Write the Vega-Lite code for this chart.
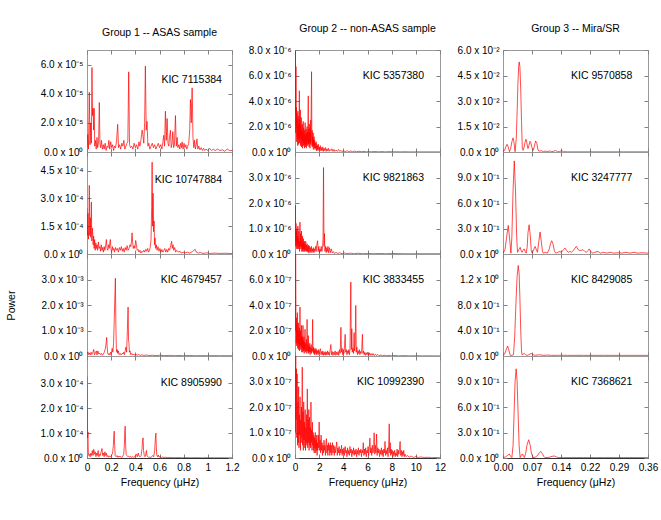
{
"$schema":"https://vega.github.io/schema/vega-lite/v6.json",
"background":"white",
"padding":{"left":5,"top":23,"right":0,"bottom":0},
"bounds":"flush",
"columns":3,
"spacing":{"row":0,"column":63},
"config":{
"font":"Liberation Sans",
"view":{"stroke":"#999999","strokeWidth":1},
"title":{"fontSize":10.5,"fontWeight":"normal","offset":11,"anchor":"middle","font":"Liberation Sans","color":"#000000"},
"axis":{"grid":false,"domain":false,"tickSize":-4,"tickColor":"#808080","tickWidth":1,"labelFontSize":10,"labelColor":"#000000","labelFont":"Liberation Sans","labelPadding":8,"labelFlush":false,"labelOverlap":false,"titleFontSize":10.5,"titleFontWeight":"normal","titleColor":"#000000","titleFont":"Liberation Sans","titlePadding":5},
"axisBottom":{"domain":true,"domainColor":"#333333","domainWidth":1},
"line":{"color":"#ff0000","strokeWidth":0.7},
"text":{"align":"right","baseline":"middle","fontSize":10.5,"color":"#000000","font":"Liberation Sans"}
},
"datasets":{
"p1":[{"f":0,"w":0.3e-5},{"f":0.006,"w":1.2e-5},{"f":0.012,"w":0.2e-5},{"f":0.019,"w":4.1e-5},{"f":0.025,"w":0.5e-5},{"f":0.031,"w":2.0e-5},{"f":0.036,"w":0.6e-5},{"f":0.041,"w":5.8e-5},{"f":0.046,"w":2.5e-5},{"f":0.05,"w":3.0e-5},{"f":0.055,"w":1.5e-5},{"f":0.059,"w":3.0e-5},{"f":0.064,"w":0.4e-5},{"f":0.07,"w":0.8e-5},{"f":0.076,"w":0.2e-5},{"f":0.083,"w":1.0e-5},{"f":0.088,"w":0.3e-5},{"f":0.096,"w":0.7e-5},{"f":0.102,"w":3.4e-5},{"f":0.107,"w":0.6e-5},{"f":0.113,"w":0.3e-5},{"f":0.12,"w":0.8e-5},{"f":0.127,"w":0.2e-5},{"f":0.135,"w":0.5e-5},{"f":0.142,"w":0.2e-5},{"f":0.15,"w":0.6e-5},{"f":0.158,"w":0.1e-5},{"f":0.166,"w":0.4e-5},{"f":0.174,"w":0.3e-5},{"f":0.181,"w":0.8e-5},{"f":0.188,"w":0.2e-5},{"f":0.196,"w":0.7e-5},{"f":0.204,"w":0.3e-5},{"f":0.212,"w":0.5e-5},{"f":0.22,"w":0.1e-5},{"f":0.228,"w":0.4e-5},{"f":0.236,"w":0.3e-5},{"f":0.244,"w":0.7e-5},{"f":0.254,"w":1.9e-5},{"f":0.261,"w":0.3e-5},{"f":0.27,"w":0.5e-5},{"f":0.278,"w":0.2e-5},{"f":0.288,"w":0.6e-5},{"f":0.297,"w":0.4e-5},{"f":0.305,"w":0.8e-5},{"f":0.313,"w":0.2e-5},{"f":0.322,"w":0.4e-5},{"f":0.33,"w":0.6e-5},{"f":0.338,"w":0.7e-5},{"f":0.345,"w":5.5e-5},{"f":0.352,"w":0.5e-5},{"f":0.36,"w":0.3e-5},{"f":0.37,"w":0.4e-5},{"f":0.38,"w":0.2e-5},{"f":0.39,"w":0.6e-5},{"f":0.4,"w":0.3e-5},{"f":0.41,"w":0.5e-5},{"f":0.42,"w":0.2e-5},{"f":0.43,"w":0.7e-5},{"f":0.438,"w":0.4e-5},{"f":0.446,"w":0.8e-5},{"f":0.456,"w":1.5e-5},{"f":0.462,"w":1.2e-5},{"f":0.47,"w":0.6e-5},{"f":0.477,"w":2.0e-5},{"f":0.483,"w":5.9e-5},{"f":0.49,"w":1.5e-5},{"f":0.497,"w":2.1e-5},{"f":0.504,"w":0.4e-5},{"f":0.512,"w":0.6e-5},{"f":0.52,"w":0.2e-5},{"f":0.53,"w":0.4e-5},{"f":0.54,"w":0.6e-5},{"f":0.55,"w":0.3e-5},{"f":0.56,"w":0.5e-5},{"f":0.57,"w":0.2e-5},{"f":0.58,"w":0.4e-5},{"f":0.59,"w":0.6e-5},{"f":0.6,"w":0.3e-5},{"f":0.61,"w":0.5e-5},{"f":0.62,"w":0.2e-5},{"f":0.628,"w":0.7e-5},{"f":0.635,"w":1.15e-5},{"f":0.642,"w":0.4e-5},{"f":0.649,"w":2.8e-5},{"f":0.656,"w":0.8e-5},{"f":0.663,"w":2.3e-5},{"f":0.67,"w":0.6e-5},{"f":0.677,"w":0.4e-5},{"f":0.683,"w":1.0e-5},{"f":0.69,"w":1.5e-5},{"f":0.697,"w":0.3e-5},{"f":0.704,"w":0.6e-5},{"f":0.71,"w":1.4e-5},{"f":0.717,"w":0.3e-5},{"f":0.724,"w":0.5e-5},{"f":0.732,"w":2.5e-5},{"f":0.739,"w":0.4e-5},{"f":0.746,"w":1.0e-5},{"f":0.752,"w":0.3e-5},{"f":0.76,"w":0.5e-5},{"f":0.768,"w":0.2e-5},{"f":0.775,"w":0.6e-5},{"f":0.782,"w":0.3e-5},{"f":0.787,"w":0.7e-5},{"f":0.795,"w":0.2e-5},{"f":0.803,"w":0.6e-5},{"f":0.81,"w":0.3e-5},{"f":0.818,"w":0.5e-5},{"f":0.826,"w":0.2e-5},{"f":0.834,"w":0.4e-5},{"f":0.842,"w":0.6e-5},{"f":0.85,"w":1.5e-5},{"f":0.856,"w":3.6e-5},{"f":0.863,"w":2.0e-5},{"f":0.87,"w":4.4e-5},{"f":0.877,"w":1.0e-5},{"f":0.884,"w":0.3e-5},{"f":0.89,"w":0.8e-5},{"f":0.897,"w":0.2e-5},{"f":0.904,"w":0.5e-5},{"f":0.91,"w":0.9e-5},{"f":0.917,"w":0.2e-5},{"f":0.925,"w":0.4e-5},{"f":0.935,"w":0.15e-5},{"f":0.945,"w":0.3e-5},{"f":0.955,"w":0.1e-5},{"f":0.965,"w":0.25e-5},{"f":0.975,"w":0.1e-5},{"f":0.985,"w":0.2e-5},{"f":1.0,"w":0.1e-5},{"f":1.015,"w":0.25e-5},{"f":1.03,"w":0.1e-5},{"f":1.045,"w":0.2e-5},{"f":1.06,"w":0.1e-5},{"f":1.08,"w":0.2e-5},{"f":1.1,"w":0.1e-5},{"f":1.12,"w":0.15e-5},{"f":1.14,"w":0.05e-5},{"f":1.16,"w":0.2e-5},{"f":1.18,"w":0.1e-5},{"f":1.2,"w":0.1e-5}],
"p2":[{"f":0,"w":2.5e-4},{"f":0.004,"w":1.0e-4},{"f":0.008,"w":2.2e-4},{"f":0.012,"w":0.8e-4},{"f":0.016,"w":1.6e-4},{"f":0.019,"w":3.7e-4},{"f":0.023,"w":1.0e-4},{"f":0.027,"w":1.96e-4},{"f":0.031,"w":0.9e-4},{"f":0.036,"w":2.8e-4},{"f":0.04,"w":0.7e-4},{"f":0.044,"w":1.4e-4},{"f":0.047,"w":1.2e-4},{"f":0.051,"w":0.5e-4},{"f":0.055,"w":0.96e-4},{"f":0.059,"w":0.3e-4},{"f":0.063,"w":0.78e-4},{"f":0.068,"w":0.2e-4},{"f":0.073,"w":0.6e-4},{"f":0.078,"w":0.3e-4},{"f":0.083,"w":0.5e-4},{"f":0.088,"w":0.2e-4},{"f":0.094,"w":0.65e-4},{"f":0.1,"w":0.3e-4},{"f":0.106,"w":0.4e-4},{"f":0.112,"w":0.15e-4},{"f":0.118,"w":0.5e-4},{"f":0.124,"w":0.2e-4},{"f":0.13,"w":0.35e-4},{"f":0.136,"w":0.1e-4},{"f":0.142,"w":0.4e-4},{"f":0.148,"w":0.2e-4},{"f":0.155,"w":0.5e-4},{"f":0.16,"w":0.78e-4},{"f":0.166,"w":0.3e-4},{"f":0.172,"w":0.2e-4},{"f":0.178,"w":0.5e-4},{"f":0.184,"w":0.3e-4},{"f":0.189,"w":0.6e-4},{"f":0.193,"w":0.78e-4},{"f":0.198,"w":0.3e-4},{"f":0.204,"w":0.1e-4},{"f":0.21,"w":0.4e-4},{"f":0.216,"w":0.2e-4},{"f":0.222,"w":0.3e-4},{"f":0.228,"w":0.1e-4},{"f":0.236,"w":0.35e-4},{"f":0.244,"w":0.2e-4},{"f":0.252,"w":0.3e-4},{"f":0.26,"w":0.1e-4},{"f":0.268,"w":0.35e-4},{"f":0.276,"w":0.2e-4},{"f":0.284,"w":0.4e-4},{"f":0.292,"w":0.15e-4},{"f":0.3,"w":0.3e-4},{"f":0.308,"w":0.1e-4},{"f":0.316,"w":0.35e-4},{"f":0.324,"w":0.2e-4},{"f":0.332,"w":0.45e-4},{"f":0.34,"w":0.2e-4},{"f":0.348,"w":0.3e-4},{"f":0.356,"w":0.5e-4},{"f":0.363,"w":0.4e-4},{"f":0.368,"w":0.7e-4},{"f":0.373,"w":1.14e-4},{"f":0.378,"w":0.6e-4},{"f":0.383,"w":0.3e-4},{"f":0.39,"w":0.45e-4},{"f":0.396,"w":0.3e-4},{"f":0.403,"w":0.73e-4},{"f":0.409,"w":0.5e-4},{"f":0.415,"w":0.2e-4},{"f":0.422,"w":0.25e-4},{"f":0.43,"w":0.1e-4},{"f":0.438,"w":0.2e-4},{"f":0.446,"w":0.05e-4},{"f":0.454,"w":0.15e-4},{"f":0.462,"w":0.1e-4},{"f":0.47,"w":0.2e-4},{"f":0.478,"w":0.1e-4},{"f":0.486,"w":0.25e-4},{"f":0.494,"w":0.15e-4},{"f":0.502,"w":0.3e-4},{"f":0.51,"w":0.1e-4},{"f":0.518,"w":0.2e-4},{"f":0.524,"w":0.4e-4},{"f":0.53,"w":0.8e-4},{"f":0.535,"w":2.5e-4},{"f":0.539,"w":4.95e-4},{"f":0.543,"w":1.5e-4},{"f":0.547,"w":3.27e-4},{"f":0.551,"w":1.2e-4},{"f":0.555,"w":1.78e-4},{"f":0.559,"w":0.5e-4},{"f":0.563,"w":0.87e-4},{"f":0.568,"w":0.3e-4},{"f":0.574,"w":0.5e-4},{"f":0.58,"w":0.2e-4},{"f":0.588,"w":0.4e-4},{"f":0.596,"w":0.15e-4},{"f":0.604,"w":0.3e-4},{"f":0.612,"w":0.1e-4},{"f":0.62,"w":0.25e-4},{"f":0.628,"w":0.1e-4},{"f":0.636,"w":0.2e-4},{"f":0.644,"w":0.3e-4},{"f":0.652,"w":0.1e-4},{"f":0.66,"w":0.25e-4},{"f":0.668,"w":0.1e-4},{"f":0.676,"w":0.3e-4},{"f":0.684,"w":0.2e-4},{"f":0.692,"w":0.45e-4},{"f":0.7,"w":0.69e-4},{"f":0.706,"w":0.3e-4},{"f":0.712,"w":0.5e-4},{"f":0.718,"w":0.2e-4},{"f":0.726,"w":0.35e-4},{"f":0.734,"w":0.1e-4},{"f":0.742,"w":0.2e-4},{"f":0.75,"w":0.15e-4},{"f":0.76,"w":0.1e-4},{"f":0.77,"w":0.15e-4},{"f":0.78,"w":0.05e-4},{"f":0.795,"w":0.1e-4},{"f":0.81,"w":0.05e-4},{"f":0.83,"w":0.1e-4},{"f":0.85,"w":0.05e-4},{"f":0.87,"w":0.12e-4},{"f":0.885,"w":0.2e-4},{"f":0.895,"w":0.25e-4},{"f":0.905,"w":0.1e-4},{"f":0.92,"w":0.05e-4},{"f":0.94,"w":0.08e-4},{"f":0.96,"w":0.03e-4},{"f":0.99,"w":0.06e-4},{"f":1.02,"w":0.03e-4},{"f":1.06,"w":0.05e-4},{"f":1.1,"w":0.03e-4},{"f":1.15,"w":0.04e-4},{"f":1.2,"w":0.02e-4}],
"p3":[{"f":0,"w":0.08e-3},{"f":0.008,"w":0.16e-3},{"f":0.014,"w":0.05e-3},{"f":0.02,"w":0.12e-3},{"f":0.027,"w":0.04e-3},{"f":0.034,"w":0.15e-3},{"f":0.04,"w":0.06e-3},{"f":0.047,"w":0.1e-3},{"f":0.055,"w":0.26e-3},{"f":0.062,"w":0.05e-3},{"f":0.07,"w":0.12e-3},{"f":0.077,"w":0.2e-3},{"f":0.083,"w":0.04e-3},{"f":0.09,"w":0.2e-3},{"f":0.097,"w":0.08e-3},{"f":0.104,"w":0.12e-3},{"f":0.112,"w":0.05e-3},{"f":0.12,"w":0.1e-3},{"f":0.128,"w":0.03e-3},{"f":0.136,"w":0.08e-3},{"f":0.143,"w":0.15e-3},{"f":0.15,"w":0.26e-3},{"f":0.156,"w":0.4e-3},{"f":0.16,"w":0.6e-3},{"f":0.163,"w":0.73e-3},{"f":0.167,"w":0.35e-3},{"f":0.172,"w":0.08e-3},{"f":0.178,"w":0.05e-3},{"f":0.184,"w":0.1e-3},{"f":0.19,"w":0.04e-3},{"f":0.196,"w":0.15e-3},{"f":0.202,"w":0.1e-3},{"f":0.208,"w":0.3e-3},{"f":0.214,"w":0.15e-3},{"f":0.22,"w":0.5e-3},{"f":0.226,"w":1.5e-3},{"f":0.232,"w":2.6e-3},{"f":0.235,"w":3.05e-3},{"f":0.239,"w":1.2e-3},{"f":0.243,"w":0.29e-3},{"f":0.247,"w":0.15e-3},{"f":0.25,"w":0.25e-3},{"f":0.254,"w":0.1e-3},{"f":0.26,"w":0.2e-3},{"f":0.266,"w":0.05e-3},{"f":0.274,"w":0.1e-3},{"f":0.282,"w":0.04e-3},{"f":0.29,"w":0.1e-3},{"f":0.298,"w":0.08e-3},{"f":0.304,"w":0.15e-3},{"f":0.31,"w":0.05e-3},{"f":0.316,"w":0.2e-3},{"f":0.322,"w":0.35e-3},{"f":0.328,"w":0.15e-3},{"f":0.334,"w":1.0e-3},{"f":0.34,"w":1.92e-3},{"f":0.344,"w":0.6e-3},{"f":0.347,"w":0.52e-3},{"f":0.351,"w":0.15e-3},{"f":0.356,"w":0.2e-3},{"f":0.362,"w":0.05e-3},{"f":0.37,"w":0.1e-3},{"f":0.378,"w":0.04e-3},{"f":0.386,"w":0.08e-3},{"f":0.394,"w":0.03e-3},{"f":0.405,"w":0.07e-3},{"f":0.416,"w":0.03e-3},{"f":0.428,"w":0.06e-3},{"f":0.44,"w":0.02e-3},{"f":0.455,"w":0.05e-3},{"f":0.47,"w":0.02e-3},{"f":0.49,"w":0.04e-3},{"f":0.51,"w":0.02e-3},{"f":0.54,"w":0.03e-3},{"f":0.57,"w":0.015e-3},{"f":0.6,"w":0.03e-3},{"f":0.64,"w":0.015e-3},{"f":0.68,"w":0.025e-3},{"f":0.72,"w":0.01e-3},{"f":0.76,"w":0.02e-3},{"f":0.8,"w":0.01e-3},{"f":0.85,"w":0.02e-3},{"f":0.9,"w":0.01e-3},{"f":0.95,"w":0.015e-3},{"f":1.0,"w":0.01e-3},{"f":1.05,"w":0.015e-3},{"f":1.1,"w":0.01e-3},{"f":1.15,"w":0.012e-3},{"f":1.2,"w":0.01e-3}],
"p4":[{"f":0,"w":3.27e-4},{"f":0.003,"w":2.1e-4},{"f":0.005,"w":0.8e-4},{"f":0.008,"w":1.05e-4},{"f":0.011,"w":0.2e-4},{"f":0.015,"w":0.1e-4},{"f":0.02,"w":0.15e-4},{"f":0.026,"w":0.05e-4},{"f":0.032,"w":0.2e-4},{"f":0.038,"w":0.1e-4},{"f":0.044,"w":0.3e-4},{"f":0.05,"w":0.1e-4},{"f":0.056,"w":0.35e-4},{"f":0.062,"w":0.15e-4},{"f":0.068,"w":0.25e-4},{"f":0.074,"w":0.05e-4},{"f":0.08,"w":0.2e-4},{"f":0.086,"w":0.1e-4},{"f":0.092,"w":0.3e-4},{"f":0.098,"w":0.05e-4},{"f":0.104,"w":0.15e-4},{"f":0.11,"w":0.1e-4},{"f":0.117,"w":0.25e-4},{"f":0.124,"w":0.38e-4},{"f":0.13,"w":0.1e-4},{"f":0.136,"w":0.2e-4},{"f":0.142,"w":0.05e-4},{"f":0.148,"w":0.25e-4},{"f":0.154,"w":0.1e-4},{"f":0.16,"w":0.2e-4},{"f":0.166,"w":0.05e-4},{"f":0.172,"w":0.1e-4},{"f":0.18,"w":0.03e-4},{"f":0.188,"w":0.08e-4},{"f":0.196,"w":0.05e-4},{"f":0.204,"w":0.12e-4},{"f":0.212,"w":0.2e-4},{"f":0.218,"w":0.5e-4},{"f":0.222,"w":0.9e-4},{"f":0.225,"w":1.08e-4},{"f":0.229,"w":0.5e-4},{"f":0.233,"w":0.1e-4},{"f":0.24,"w":0.05e-4},{"f":0.248,"w":0.1e-4},{"f":0.256,"w":0.03e-4},{"f":0.264,"w":0.08e-4},{"f":0.272,"w":0.04e-4},{"f":0.28,"w":0.06e-4},{"f":0.288,"w":0.02e-4},{"f":0.296,"w":0.08e-4},{"f":0.304,"w":0.15e-4},{"f":0.31,"w":0.6e-4},{"f":0.313,"w":1.1e-4},{"f":0.316,"w":1.28e-4},{"f":0.32,"w":0.5e-4},{"f":0.324,"w":0.15e-4},{"f":0.33,"w":0.1e-4},{"f":0.338,"w":0.05e-4},{"f":0.346,"w":0.08e-4},{"f":0.354,"w":0.03e-4},{"f":0.362,"w":0.06e-4},{"f":0.37,"w":0.03e-4},{"f":0.378,"w":0.06e-4},{"f":0.386,"w":0.02e-4},{"f":0.394,"w":0.05e-4},{"f":0.402,"w":0.1e-4},{"f":0.41,"w":0.15e-4},{"f":0.416,"w":0.05e-4},{"f":0.424,"w":0.2e-4},{"f":0.43,"w":0.08e-4},{"f":0.44,"w":0.05e-4},{"f":0.448,"w":0.1e-4},{"f":0.455,"w":0.35e-4},{"f":0.46,"w":0.7e-4},{"f":0.464,"w":0.81e-4},{"f":0.468,"w":0.3e-4},{"f":0.474,"w":0.1e-4},{"f":0.48,"w":0.05e-4},{"f":0.486,"w":0.15e-4},{"f":0.492,"w":0.3e-4},{"f":0.497,"w":0.08e-4},{"f":0.504,"w":0.05e-4},{"f":0.512,"w":0.02e-4},{"f":0.52,"w":0.04e-4},{"f":0.528,"w":0.02e-4},{"f":0.536,"w":0.05e-4},{"f":0.544,"w":0.1e-4},{"f":0.552,"w":0.05e-4},{"f":0.56,"w":0.3e-4},{"f":0.566,"w":0.8e-4},{"f":0.57,"w":1.0e-4},{"f":0.574,"w":0.4e-4},{"f":0.578,"w":0.1e-4},{"f":0.584,"w":0.05e-4},{"f":0.59,"w":0.12e-4},{"f":0.596,"w":0.03e-4},{"f":0.604,"w":0.06e-4},{"f":0.614,"w":0.02e-4},{"f":0.624,"w":0.04e-4},{"f":0.636,"w":0.02e-4},{"f":0.65,"w":0.03e-4},{"f":0.67,"w":0.015e-4},{"f":0.69,"w":0.025e-4},{"f":0.72,"w":0.01e-4},{"f":0.75,"w":0.02e-4},{"f":0.78,"w":0.01e-4},{"f":0.82,"w":0.015e-4},{"f":0.86,"w":0.01e-4},{"f":0.9,"w":0.015e-4},{"f":0.95,"w":0.008e-4},{"f":1.0,"w":0.012e-4},{"f":1.05,"w":0.008e-4},{"f":1.1,"w":0.01e-4},{"f":1.15,"w":0.008e-4},{"f":1.2,"w":0.008e-4}],
"p5":[{"f":0,"w":8.0e-6},{"f":0.02,"w":3.0e-6},{"f":0.04,"w":7.9e-6},{"f":0.06,"w":1.5e-6},{"f":0.08,"w":6.7e-6},{"f":0.1,"w":2.0e-6},{"f":0.12,"w":3.5e-6},{"f":0.14,"w":0.8e-6},{"f":0.16,"w":3.0e-6},{"f":0.18,"w":1.2e-6},{"f":0.2,"w":2.6e-6},{"f":0.22,"w":0.5e-6},{"f":0.24,"w":3.2e-6},{"f":0.26,"w":1.0e-6},{"f":0.28,"w":2.2e-6},{"f":0.3,"w":0.6e-6},{"f":0.32,"w":2.8e-6},{"f":0.34,"w":1.0e-6},{"f":0.36,"w":4.8e-6},{"f":0.38,"w":0.7e-6},{"f":0.4,"w":2.5e-6},{"f":0.42,"w":1.2e-6},{"f":0.44,"w":3.3e-6},{"f":0.46,"w":0.5e-6},{"f":0.48,"w":2.0e-6},{"f":0.5,"w":1.0e-6},{"f":0.52,"w":2.7e-6},{"f":0.54,"w":0.4e-6},{"f":0.56,"w":1.8e-6},{"f":0.58,"w":0.8e-6},{"f":0.6,"w":2.2e-6},{"f":0.62,"w":0.3e-6},{"f":0.64,"w":1.6e-6},{"f":0.66,"w":0.9e-6},{"f":0.68,"w":2.4e-6},{"f":0.7,"w":0.5e-6},{"f":0.72,"w":1.9e-6},{"f":0.74,"w":0.7e-6},{"f":0.76,"w":1.4e-6},{"f":0.78,"w":0.3e-6},{"f":0.8,"w":1.7e-6},{"f":0.82,"w":0.6e-6},{"f":0.84,"w":2.3e-6},{"f":0.86,"w":0.4e-6},{"f":0.88,"w":1.3e-6},{"f":0.9,"w":0.8e-6},{"f":0.92,"w":1.8e-6},{"f":0.94,"w":0.3e-6},{"f":0.96,"w":1.5e-6},{"f":0.98,"w":0.6e-6},{"f":1.0,"w":2.0e-6},{"f":1.02,"w":0.5e-6},{"f":1.04,"w":1.6e-6},{"f":1.06,"w":0.8e-6},{"f":1.08,"w":3.0e-6},{"f":1.1,"w":4.4e-6},{"f":1.12,"w":0.6e-6},{"f":1.14,"w":1.8e-6},{"f":1.16,"w":0.4e-6},{"f":1.18,"w":2.2e-6},{"f":1.2,"w":0.7e-6},{"f":1.22,"w":1.5e-6},{"f":1.24,"w":0.3e-6},{"f":1.26,"w":1.9e-6},{"f":1.28,"w":0.6e-6},{"f":1.3,"w":2.5e-6},{"f":1.32,"w":0.8e-6},{"f":1.34,"w":3.5e-6},{"f":1.37,"w":6.3e-6},{"f":1.4,"w":0.5e-6},{"f":1.42,"w":1.7e-6},{"f":1.44,"w":0.4e-6},{"f":1.46,"w":1.2e-6},{"f":1.48,"w":0.6e-6},{"f":1.5,"w":1.5e-6},{"f":1.52,"w":0.2e-6},{"f":1.54,"w":1.0e-6},{"f":1.56,"w":0.5e-6},{"f":1.58,"w":1.2e-6},{"f":1.6,"w":0.3e-6},{"f":1.63,"w":0.9e-6},{"f":1.66,"w":0.2e-6},{"f":1.69,"w":0.7e-6},{"f":1.72,"w":0.3e-6},{"f":1.75,"w":0.8e-6},{"f":1.78,"w":0.1e-6},{"f":1.81,"w":0.6e-6},{"f":1.84,"w":0.2e-6},{"f":1.87,"w":0.5e-6},{"f":1.9,"w":0.1e-6},{"f":1.94,"w":0.6e-6},{"f":1.98,"w":0.2e-6},{"f":2.02,"w":0.4e-6},{"f":2.06,"w":0.1e-6},{"f":2.1,"w":0.5e-6},{"f":2.15,"w":0.1e-6},{"f":2.2,"w":0.35e-6},{"f":2.25,"w":0.1e-6},{"f":2.3,"w":0.4e-6},{"f":2.35,"w":0.05e-6},{"f":2.4,"w":0.3e-6},{"f":2.46,"w":0.1e-6},{"f":2.52,"w":0.35e-6},{"f":2.58,"w":0.05e-6},{"f":2.64,"w":0.25e-6},{"f":2.7,"w":0.1e-6},{"f":2.76,"w":0.3e-6},{"f":2.82,"w":0.05e-6},{"f":2.9,"w":0.2e-6},{"f":2.98,"w":0.1e-6},{"f":3.06,"w":0.25e-6},{"f":3.14,"w":0.05e-6},{"f":3.22,"w":0.2e-6},{"f":3.3,"w":0.05e-6},{"f":3.4,"w":0.15e-6},{"f":3.5,"w":0.05e-6},{"f":3.6,"w":0.2e-6},{"f":3.7,"w":0.05e-6},{"f":3.8,"w":0.12e-6},{"f":3.9,"w":0.03e-6},{"f":4.0,"w":0.1e-6},{"f":4.15,"w":0.03e-6},{"f":4.3,"w":0.1e-6},{"f":4.45,"w":0.02e-6},{"f":4.6,"w":0.08e-6},{"f":4.75,"w":0.02e-6},{"f":4.9,"w":0.07e-6},{"f":5.1,"w":0.02e-6},{"f":5.3,"w":0.06e-6},{"f":5.5,"w":0.02e-6},{"f":5.7,"w":0.05e-6},{"f":5.9,"w":0.01e-6},{"f":6.1,"w":0.04e-6},{"f":6.3,"w":0.01e-6},{"f":6.6,"w":0.04e-6},{"f":6.9,"w":0.01e-6},{"f":7.2,"w":0.03e-6},{"f":7.5,"w":0.01e-6},{"f":7.8,"w":0.03e-6},{"f":8.1,"w":0.01e-6},{"f":8.4,"w":0.02e-6},{"f":8.7,"w":0.01e-6},{"f":9.0,"w":0.02e-6},{"f":9.5,"w":0.01e-6},{"f":10.0,"w":0.01e-6},{"f":10.5,"w":0.01e-6},{"f":11.0,"w":0.01e-6},{"f":12.0,"w":0.01e-6}],
"p6":[{"f":0,"w":1.9e-6},{"f":0.02,"w":0.5e-6},{"f":0.04,"w":1.9e-6},{"f":0.06,"w":0.3e-6},{"f":0.08,"w":1.2e-6},{"f":0.1,"w":0.4e-6},{"f":0.12,"w":0.9e-6},{"f":0.14,"w":0.2e-6},{"f":0.16,"w":1.0e-6},{"f":0.18,"w":0.3e-6},{"f":0.2,"w":0.7e-6},{"f":0.22,"w":0.2e-6},{"f":0.24,"w":1.1e-6},{"f":0.26,"w":0.4e-6},{"f":0.28,"w":0.6e-6},{"f":0.3,"w":0.2e-6},{"f":0.32,"w":0.9e-6},{"f":0.34,"w":0.3e-6},{"f":0.36,"w":0.5e-6},{"f":0.38,"w":0.1e-6},{"f":0.41,"w":1.25e-6},{"f":0.44,"w":0.3e-6},{"f":0.46,"w":0.8e-6},{"f":0.48,"w":0.2e-6},{"f":0.5,"w":0.6e-6},{"f":0.52,"w":0.3e-6},{"f":0.54,"w":0.9e-6},{"f":0.56,"w":0.1e-6},{"f":0.58,"w":0.5e-6},{"f":0.6,"w":0.2e-6},{"f":0.62,"w":0.7e-6},{"f":0.64,"w":0.1e-6},{"f":0.66,"w":0.4e-6},{"f":0.68,"w":0.2e-6},{"f":0.7,"w":0.6e-6},{"f":0.72,"w":0.1e-6},{"f":0.74,"w":0.45e-6},{"f":0.76,"w":0.2e-6},{"f":0.78,"w":0.5e-6},{"f":0.8,"w":0.1e-6},{"f":0.83,"w":0.4e-6},{"f":0.86,"w":0.15e-6},{"f":0.89,"w":0.5e-6},{"f":0.92,"w":0.1e-6},{"f":0.95,"w":0.35e-6},{"f":0.98,"w":0.1e-6},{"f":1.01,"w":0.4e-6},{"f":1.04,"w":0.1e-6},{"f":1.07,"w":0.3e-6},{"f":1.1,"w":0.05e-6},{"f":1.13,"w":0.35e-6},{"f":1.16,"w":0.1e-6},{"f":1.2,"w":0.3e-6},{"f":1.24,"w":0.05e-6},{"f":1.28,"w":0.25e-6},{"f":1.32,"w":0.1e-6},{"f":1.36,"w":0.3e-6},{"f":1.4,"w":0.05e-6},{"f":1.44,"w":0.2e-6},{"f":1.48,"w":0.1e-6},{"f":1.52,"w":0.25e-6},{"f":1.56,"w":0.05e-6},{"f":1.6,"w":0.2e-6},{"f":1.65,"w":0.1e-6},{"f":1.7,"w":0.3e-6},{"f":1.75,"w":0.1e-6},{"f":1.8,"w":0.35e-6},{"f":1.87,"w":0.52e-6},{"f":1.92,"w":0.1e-6},{"f":1.97,"w":0.3e-6},{"f":2.02,"w":0.05e-6},{"f":2.07,"w":0.2e-6},{"f":2.12,"w":0.1e-6},{"f":2.17,"w":0.3e-6},{"f":2.22,"w":0.1e-6},{"f":2.27,"w":0.2e-6},{"f":2.32,"w":0.6e-6},{"f":2.36,"w":3.39e-6},{"f":2.4,"w":0.3e-6},{"f":2.44,"w":0.8e-6},{"f":2.48,"w":0.1e-6},{"f":2.53,"w":0.3e-6},{"f":2.58,"w":0.05e-6},{"f":2.63,"w":0.25e-6},{"f":2.68,"w":0.1e-6},{"f":2.73,"w":0.3e-6},{"f":2.78,"w":0.05e-6},{"f":2.85,"w":0.25e-6},{"f":2.92,"w":0.05e-6},{"f":3.0,"w":0.2e-6},{"f":3.08,"w":0.05e-6},{"f":3.16,"w":0.1e-6},{"f":3.25,"w":0.02e-6},{"f":3.4,"w":0.06e-6},{"f":3.55,"w":0.02e-6},{"f":3.7,"w":0.05e-6},{"f":3.9,"w":0.01e-6},{"f":4.1,"w":0.04e-6},{"f":4.3,"w":0.01e-6},{"f":4.6,"w":0.03e-6},{"f":4.9,"w":0.01e-6},{"f":5.2,"w":0.03e-6},{"f":5.6,"w":0.01e-6},{"f":6.0,"w":0.02e-6},{"f":6.5,"w":0.01e-6},{"f":7.0,"w":0.02e-6},{"f":7.5,"w":0.01e-6},{"f":8.0,"w":0.02e-6},{"f":9.0,"w":0.01e-6},{"f":10.0,"w":0.01e-6},{"f":11.0,"w":0.01e-6},{"f":12.0,"w":0.01e-6}],
"p7":[{"f":0,"w":8.5e-7},{"f":0.03,"w":2.0e-7},{"f":0.05,"w":9.0e-7},{"f":0.08,"w":3.5e-7},{"f":0.1,"w":1.0e-7},{"f":0.12,"w":3.0e-7},{"f":0.14,"w":0.8e-7},{"f":0.16,"w":2.5e-7},{"f":0.18,"w":1.2e-7},{"f":0.2,"w":3.4e-7},{"f":0.22,"w":0.6e-7},{"f":0.24,"w":2.0e-7},{"f":0.26,"w":1.0e-7},{"f":0.28,"w":2.6e-7},{"f":0.3,"w":0.5e-7},{"f":0.32,"w":1.8e-7},{"f":0.34,"w":0.9e-7},{"f":0.36,"w":2.2e-7},{"f":0.38,"w":0.4e-7},{"f":0.41,"w":3.84e-7},{"f":0.44,"w":0.8e-7},{"f":0.46,"w":2.0e-7},{"f":0.48,"w":0.5e-7},{"f":0.5,"w":1.5e-7},{"f":0.52,"w":0.7e-7},{"f":0.54,"w":2.4e-7},{"f":0.56,"w":0.3e-7},{"f":0.58,"w":1.6e-7},{"f":0.6,"w":0.6e-7},{"f":0.62,"w":1.4e-7},{"f":0.64,"w":0.3e-7},{"f":0.66,"w":2.4e-7},{"f":0.68,"w":0.5e-7},{"f":0.7,"w":1.2e-7},{"f":0.72,"w":0.4e-7},{"f":0.74,"w":1.5e-7},{"f":0.76,"w":0.2e-7},{"f":0.78,"w":1.1e-7},{"f":0.8,"w":0.5e-7},{"f":0.83,"w":2.1e-7},{"f":0.86,"w":0.3e-7},{"f":0.89,"w":1.0e-7},{"f":0.92,"w":0.4e-7},{"f":0.95,"w":1.3e-7},{"f":0.98,"w":0.2e-7},{"f":1.0,"w":2.87e-7},{"f":1.03,"w":0.4e-7},{"f":1.06,"w":0.9e-7},{"f":1.09,"w":0.3e-7},{"f":1.1,"w":1.6e-7},{"f":1.13,"w":0.2e-7},{"f":1.16,"w":0.8e-7},{"f":1.19,"w":0.3e-7},{"f":1.22,"w":1.0e-7},{"f":1.25,"w":0.1e-7},{"f":1.28,"w":0.7e-7},{"f":1.31,"w":0.3e-7},{"f":1.34,"w":0.9e-7},{"f":1.37,"w":0.2e-7},{"f":1.4,"w":0.6e-7},{"f":1.43,"w":0.4e-7},{"f":1.46,"w":2.87e-7},{"f":1.49,"w":0.3e-7},{"f":1.52,"w":0.7e-7},{"f":1.55,"w":0.2e-7},{"f":1.58,"w":0.6e-7},{"f":1.61,"w":0.1e-7},{"f":1.64,"w":0.5e-7},{"f":1.68,"w":0.2e-7},{"f":1.72,"w":0.6e-7},{"f":1.76,"w":0.1e-7},{"f":1.8,"w":0.5e-7},{"f":1.84,"w":0.2e-7},{"f":1.88,"w":0.4e-7},{"f":1.92,"w":0.1e-7},{"f":1.96,"w":0.5e-7},{"f":2.0,"w":0.2e-7},{"f":2.05,"w":0.4e-7},{"f":2.1,"w":0.57e-7},{"f":2.15,"w":0.1e-7},{"f":2.2,"w":0.35e-7},{"f":2.25,"w":0.1e-7},{"f":2.3,"w":0.4e-7},{"f":2.35,"w":0.05e-7},{"f":2.4,"w":0.3e-7},{"f":2.45,"w":0.1e-7},{"f":2.5,"w":0.35e-7},{"f":2.55,"w":0.05e-7},{"f":2.6,"w":0.3e-7},{"f":2.65,"w":0.1e-7},{"f":2.7,"w":0.4e-7},{"f":2.75,"w":0.1e-7},{"f":2.8,"w":0.3e-7},{"f":2.85,"w":0.05e-7},{"f":2.9,"w":0.4e-7},{"f":2.97,"w":0.9e-7},{"f":3.02,"w":0.1e-7},{"f":3.08,"w":0.35e-7},{"f":3.14,"w":0.05e-7},{"f":3.2,"w":0.3e-7},{"f":3.26,"w":0.1e-7},{"f":3.32,"w":0.4e-7},{"f":3.38,"w":0.05e-7},{"f":3.44,"w":0.3e-7},{"f":3.5,"w":0.1e-7},{"f":3.56,"w":0.35e-7},{"f":3.62,"w":0.05e-7},{"f":3.68,"w":0.5e-7},{"f":3.74,"w":0.2e-7},{"f":3.8,"w":2.25e-7},{"f":3.85,"w":0.3e-7},{"f":3.9,"w":0.6e-7},{"f":3.95,"w":0.1e-7},{"f":4.0,"w":0.5e-7},{"f":4.05,"w":0.2e-7},{"f":4.1,"w":0.8e-7},{"f":4.15,"w":1.7e-7},{"f":4.2,"w":0.3e-7},{"f":4.25,"w":0.5e-7},{"f":4.3,"w":0.1e-7},{"f":4.35,"w":0.4e-7},{"f":4.4,"w":0.2e-7},{"f":4.45,"w":0.5e-7},{"f":4.5,"w":0.1e-7},{"f":4.55,"w":0.6e-7},{"f":4.62,"w":5.8e-7},{"f":4.66,"w":0.5e-7},{"f":4.7,"w":2.14e-7},{"f":4.74,"w":0.3e-7},{"f":4.79,"w":0.6e-7},{"f":4.84,"w":0.2e-7},{"f":4.89,"w":1.83e-7},{"f":4.93,"w":0.4e-7},{"f":4.98,"w":0.8e-7},{"f":5.03,"w":3.97e-7},{"f":5.07,"w":0.3e-7},{"f":5.12,"w":0.7e-7},{"f":5.17,"w":0.1e-7},{"f":5.22,"w":0.4e-7},{"f":5.27,"w":0.2e-7},{"f":5.32,"w":0.5e-7},{"f":5.37,"w":0.1e-7},{"f":5.42,"w":0.35e-7},{"f":5.47,"w":0.2e-7},{"f":5.52,"w":0.5e-7},{"f":5.58,"w":1.7e-7},{"f":5.62,"w":0.2e-7},{"f":5.67,"w":0.4e-7},{"f":5.72,"w":0.1e-7},{"f":5.78,"w":0.3e-7},{"f":5.84,"w":0.05e-7},{"f":5.9,"w":0.25e-7},{"f":5.96,"w":0.1e-7},{"f":6.02,"w":0.3e-7},{"f":6.08,"w":0.05e-7},{"f":6.15,"w":0.25e-7},{"f":6.22,"w":0.05e-7},{"f":6.3,"w":0.2e-7},{"f":6.38,"w":0.05e-7},{"f":6.46,"w":0.2e-7},{"f":6.55,"w":0.03e-7},{"f":6.65,"w":0.15e-7},{"f":6.75,"w":0.03e-7},{"f":6.85,"w":0.12e-7},{"f":6.95,"w":0.02e-7},{"f":7.1,"w":0.08e-7},{"f":7.25,"w":0.02e-7},{"f":7.4,"w":0.06e-7},{"f":7.6,"w":0.02e-7},{"f":7.8,"w":0.05e-7},{"f":8.0,"w":0.01e-7},{"f":8.3,"w":0.04e-7},{"f":8.6,"w":0.01e-7},{"f":9.0,"w":0.03e-7},{"f":9.5,"w":0.01e-7},{"f":10.0,"w":0.02e-7},{"f":10.5,"w":0.01e-7},{"f":11.0,"w":0.015e-7},{"f":11.5,"w":0.01e-7},{"f":12.0,"w":0.01e-7}],
"p8":[{"f":0,"w":4.5e-7},{"f":0.03,"w":1.0e-7},{"f":0.06,"w":4.3e-7},{"f":0.09,"w":1.5e-7},{"f":0.12,"w":3.5e-7},{"f":0.15,"w":0.8e-7},{"f":0.18,"w":3.3e-7},{"f":0.21,"w":0.5e-7},{"f":0.24,"w":2.2e-7},{"f":0.27,"w":0.6e-7},{"f":0.3,"w":2.8e-7},{"f":0.33,"w":0.4e-7},{"f":0.36,"w":1.7e-7},{"f":0.39,"w":0.9e-7},{"f":0.42,"w":2.4e-7},{"f":0.45,"w":0.3e-7},{"f":0.48,"w":1.5e-7},{"f":0.51,"w":0.6e-7},{"f":0.54,"w":2.0e-7},{"f":0.57,"w":0.8e-7},{"f":0.6,"w":3.56e-7},{"f":0.63,"w":0.5e-7},{"f":0.66,"w":1.8e-7},{"f":0.69,"w":0.3e-7},{"f":0.72,"w":2.2e-7},{"f":0.75,"w":0.7e-7},{"f":0.78,"w":1.4e-7},{"f":0.81,"w":0.4e-7},{"f":0.84,"w":1.9e-7},{"f":0.87,"w":0.3e-7},{"f":0.9,"w":1.2e-7},{"f":0.93,"w":0.6e-7},{"f":0.96,"w":1.7e-7},{"f":0.99,"w":0.5e-7},{"f":1.02,"w":2.71e-7},{"f":1.05,"w":0.4e-7},{"f":1.08,"w":1.5e-7},{"f":1.11,"w":0.6e-7},{"f":1.14,"w":1.9e-7},{"f":1.17,"w":0.3e-7},{"f":1.2,"w":1.6e-7},{"f":1.23,"w":0.5e-7},{"f":1.26,"w":1.2e-7},{"f":1.29,"w":0.4e-7},{"f":1.32,"w":2.19e-7},{"f":1.35,"w":0.6e-7},{"f":1.38,"w":1.1e-7},{"f":1.41,"w":0.3e-7},{"f":1.44,"w":1.4e-7},{"f":1.47,"w":0.5e-7},{"f":1.5,"w":1.0e-7},{"f":1.53,"w":0.3e-7},{"f":1.56,"w":0.9e-7},{"f":1.59,"w":0.2e-7},{"f":1.62,"w":0.8e-7},{"f":1.65,"w":0.4e-7},{"f":1.68,"w":1.0e-7},{"f":1.71,"w":0.2e-7},{"f":1.74,"w":0.7e-7},{"f":1.77,"w":0.3e-7},{"f":1.8,"w":0.9e-7},{"f":1.83,"w":0.1e-7},{"f":1.86,"w":0.6e-7},{"f":1.89,"w":0.3e-7},{"f":1.92,"w":0.9e-7},{"f":1.96,"w":0.4e-7},{"f":2.0,"w":1.41e-7},{"f":2.04,"w":0.3e-7},{"f":2.08,"w":0.7e-7},{"f":2.12,"w":0.2e-7},{"f":2.16,"w":0.9e-7},{"f":2.2,"w":0.3e-7},{"f":2.24,"w":0.6e-7},{"f":2.28,"w":0.1e-7},{"f":2.32,"w":0.5e-7},{"f":2.36,"w":0.2e-7},{"f":2.4,"w":0.7e-7},{"f":2.44,"w":0.3e-7},{"f":2.48,"w":0.5e-7},{"f":2.52,"w":0.1e-7},{"f":2.56,"w":0.6e-7},{"f":2.6,"w":0.76e-7},{"f":2.64,"w":0.2e-7},{"f":2.68,"w":0.5e-7},{"f":2.72,"w":0.1e-7},{"f":2.76,"w":0.6e-7},{"f":2.8,"w":0.3e-7},{"f":2.84,"w":0.5e-7},{"f":2.88,"w":0.1e-7},{"f":2.92,"w":0.6e-7},{"f":2.96,"w":0.2e-7},{"f":3.0,"w":0.5e-7},{"f":3.05,"w":0.1e-7},{"f":3.1,"w":0.6e-7},{"f":3.15,"w":0.2e-7},{"f":3.2,"w":0.5e-7},{"f":3.25,"w":0.1e-7},{"f":3.3,"w":0.45e-7},{"f":3.35,"w":0.2e-7},{"f":3.4,"w":0.4e-7},{"f":3.45,"w":0.63e-7},{"f":3.5,"w":0.1e-7},{"f":3.55,"w":0.4e-7},{"f":3.6,"w":0.2e-7},{"f":3.65,"w":0.45e-7},{"f":3.7,"w":0.1e-7},{"f":3.75,"w":0.35e-7},{"f":3.8,"w":0.2e-7},{"f":3.85,"w":0.5e-7},{"f":3.9,"w":0.1e-7},{"f":3.95,"w":0.35e-7},{"f":4.0,"w":0.15e-7},{"f":4.05,"w":0.4e-7},{"f":4.1,"w":0.1e-7},{"f":4.15,"w":0.45e-7},{"f":4.2,"w":0.2e-7},{"f":4.25,"w":0.3e-7},{"f":4.3,"w":0.05e-7},{"f":4.35,"w":0.4e-7},{"f":4.4,"w":0.15e-7},{"f":4.45,"w":0.3e-7},{"f":4.5,"w":0.1e-7},{"f":4.55,"w":0.45e-7},{"f":4.6,"w":0.2e-7},{"f":4.65,"w":0.35e-7},{"f":4.7,"w":0.05e-7},{"f":4.75,"w":0.3e-7},{"f":4.8,"w":0.15e-7},{"f":4.85,"w":0.4e-7},{"f":4.9,"w":0.1e-7},{"f":4.95,"w":0.3e-7},{"f":5.0,"w":0.15e-7},{"f":5.05,"w":0.35e-7},{"f":5.1,"w":0.05e-7},{"f":5.15,"w":0.3e-7},{"f":5.2,"w":0.15e-7},{"f":5.25,"w":0.4e-7},{"f":5.3,"w":0.1e-7},{"f":5.35,"w":0.3e-7},{"f":5.4,"w":0.2e-7},{"f":5.45,"w":0.35e-7},{"f":5.5,"w":0.05e-7},{"f":5.55,"w":0.3e-7},{"f":5.6,"w":0.2e-7},{"f":5.65,"w":0.6e-7},{"f":5.7,"w":0.1e-7},{"f":5.75,"w":0.35e-7},{"f":5.8,"w":0.15e-7},{"f":5.85,"w":0.4e-7},{"f":5.9,"w":0.05e-7},{"f":5.95,"w":0.3e-7},{"f":6.0,"w":0.2e-7},{"f":6.05,"w":0.45e-7},{"f":6.1,"w":0.1e-7},{"f":6.15,"w":0.4e-7},{"f":6.2,"w":0.78e-7},{"f":6.25,"w":0.2e-7},{"f":6.3,"w":0.4e-7},{"f":6.35,"w":0.1e-7},{"f":6.4,"w":0.5e-7},{"f":6.45,"w":0.2e-7},{"f":6.5,"w":0.3e-7},{"f":6.55,"w":0.99e-7},{"f":6.6,"w":0.15e-7},{"f":6.65,"w":0.5e-7},{"f":6.7,"w":0.2e-7},{"f":6.75,"w":0.94e-7},{"f":6.8,"w":0.1e-7},{"f":6.85,"w":0.4e-7},{"f":6.9,"w":0.2e-7},{"f":6.95,"w":0.35e-7},{"f":7.0,"w":0.05e-7},{"f":7.05,"w":0.3e-7},{"f":7.1,"w":0.15e-7},{"f":7.15,"w":0.4e-7},{"f":7.2,"w":0.1e-7},{"f":7.25,"w":0.3e-7},{"f":7.3,"w":0.05e-7},{"f":7.35,"w":0.35e-7},{"f":7.4,"w":0.2e-7},{"f":7.45,"w":0.65e-7},{"f":7.5,"w":0.1e-7},{"f":7.55,"w":0.3e-7},{"f":7.6,"w":0.15e-7},{"f":7.65,"w":0.4e-7},{"f":7.7,"w":0.05e-7},{"f":7.75,"w":0.5e-7},{"f":7.8,"w":1.34e-7},{"f":7.84,"w":0.2e-7},{"f":7.88,"w":0.6e-7},{"f":7.92,"w":0.1e-7},{"f":7.96,"w":0.35e-7},{"f":8.0,"w":0.15e-7},{"f":8.05,"w":0.3e-7},{"f":8.1,"w":0.05e-7},{"f":8.15,"w":0.25e-7},{"f":8.2,"w":0.1e-7},{"f":8.25,"w":0.3e-7},{"f":8.3,"w":0.05e-7},{"f":8.35,"w":0.2e-7},{"f":8.4,"w":0.1e-7},{"f":8.45,"w":0.35e-7},{"f":8.5,"w":0.05e-7},{"f":8.55,"w":0.3e-7},{"f":8.6,"w":0.15e-7},{"f":8.65,"w":0.4e-7},{"f":8.7,"w":0.65e-7},{"f":8.75,"w":0.1e-7},{"f":8.8,"w":0.3e-7},{"f":8.85,"w":0.05e-7},{"f":8.9,"w":0.25e-7},{"f":8.95,"w":0.1e-7},{"f":9.0,"w":0.3e-7},{"f":9.05,"w":0.05e-7},{"f":9.1,"w":0.15e-7},{"f":9.2,"w":0.05e-7},{"f":9.3,"w":0.1e-7},{"f":9.45,"w":0.03e-7},{"f":9.6,"w":0.08e-7},{"f":9.8,"w":0.02e-7},{"f":10.0,"w":0.06e-7},{"f":10.2,"w":0.02e-7},{"f":10.4,"w":0.04e-7},{"f":10.7,"w":0.02e-7},{"f":11.0,"w":0.03e-7},{"f":11.3,"w":0.01e-7},{"f":11.6,"w":0.02e-7},{"f":12.0,"w":0.01e-7}],
"p9":[{"f":0,"w":0.05e-2},{"f":0.004,"w":0.1e-2},{"f":0.007,"w":0.3e-2},{"f":0.01,"w":0.45e-2},{"f":0.013,"w":0.3e-2},{"f":0.016,"w":0.02e-2},{"f":0.019,"w":0.2e-2},{"f":0.022,"w":0.6e-2},{"f":0.025,"w":0.83e-2},{"f":0.027,"w":0.6e-2},{"f":0.03,"w":0.02e-2},{"f":0.033,"w":0.8e-2},{"f":0.035,"w":2.3e-2},{"f":0.037,"w":4.0e-2},{"f":0.039,"w":5.1e-2},{"f":0.0403,"w":5.3e-2},{"f":0.042,"w":5.0e-2},{"f":0.044,"w":3.7e-2},{"f":0.046,"w":1.8e-2},{"f":0.048,"w":0.2e-2},{"f":0.05,"w":0.1e-2},{"f":0.052,"w":0.25e-2},{"f":0.055,"w":0.6e-2},{"f":0.057,"w":0.75e-2},{"f":0.059,"w":0.55e-2},{"f":0.062,"w":0.2e-2},{"f":0.064,"w":0.35e-2},{"f":0.067,"w":0.63e-2},{"f":0.069,"w":0.55e-2},{"f":0.072,"w":0.25e-2},{"f":0.075,"w":0.1e-2},{"f":0.078,"w":0.35e-2},{"f":0.081,"w":0.65e-2},{"f":0.084,"w":0.5e-2},{"f":0.087,"w":0.1e-2},{"f":0.09,"w":0.05e-2},{"f":0.095,"w":0.08e-2},{"f":0.1,"w":0.02e-2},{"f":0.105,"w":0.05e-2},{"f":0.11,"w":0.03e-2},{"f":0.116,"w":0.06e-2},{"f":0.12,"w":0.02e-2},{"f":0.125,"w":0.03e-2},{"f":0.13,"w":0.09e-2},{"f":0.135,"w":0.02e-2},{"f":0.14,"w":0.02e-2},{"f":0.146,"w":0.08e-2},{"f":0.15,"w":0.02e-2},{"f":0.16,"w":0.01e-2},{"f":0.17,"w":0.01e-2},{"f":0.2,"w":0.01e-2},{"f":0.25,"w":0.01e-2},{"f":0.3,"w":0.01e-2},{"f":0.36,"w":0.01e-2}],
"p10":[{"f":0,"w":0.01},{"f":0.005,"w":0.05},{"f":0.009,"w":0.2},{"f":0.0131,"w":0.336},{"f":0.016,"w":0.2},{"f":0.0197,"w":0.01},{"f":0.022,"w":0.2},{"f":0.025,"w":0.75},{"f":0.028,"w":1.095},{"f":0.031,"w":0.75},{"f":0.034,"w":0.2},{"f":0.036,"w":0.02},{"f":0.039,"w":0.05},{"f":0.0427,"w":0.078},{"f":0.045,"w":0.04},{"f":0.047,"w":0.02},{"f":0.05,"w":0.045},{"f":0.0526,"w":0.06},{"f":0.055,"w":0.03},{"f":0.0575,"w":0.01},{"f":0.06,"w":0.08},{"f":0.062,"w":0.25},{"f":0.0649,"w":0.344},{"f":0.068,"w":0.2},{"f":0.07,"w":0.05},{"f":0.0723,"w":0.01},{"f":0.076,"w":0.05},{"f":0.0797,"w":0.09},{"f":0.083,"w":0.05},{"f":0.0855,"w":0.02},{"f":0.089,"w":0.15},{"f":0.092,"w":0.258},{"f":0.095,"w":0.15},{"f":0.098,"w":0.03},{"f":0.1,"w":0.01},{"f":0.105,"w":0.02},{"f":0.11,"w":0.01},{"f":0.115,"w":0.06},{"f":0.118,"w":0.12},{"f":0.121,"w":0.156},{"f":0.124,"w":0.12},{"f":0.128,"w":0.03},{"f":0.131,"w":0.01},{"f":0.136,"w":0.02},{"f":0.141,"w":0.03},{"f":0.145,"w":0.02},{"f":0.15,"w":0.05},{"f":0.154,"w":0.07},{"f":0.158,"w":0.04},{"f":0.162,"w":0.02},{"f":0.166,"w":0.03},{"f":0.17,"w":0.02},{"f":0.176,"w":0.05},{"f":0.182,"w":0.09},{"f":0.187,"w":0.05},{"f":0.191,"w":0.04},{"f":0.195,"w":0.045},{"f":0.199,"w":0.05},{"f":0.203,"w":0.03},{"f":0.207,"w":0.02},{"f":0.211,"w":0.04},{"f":0.214,"w":0.06},{"f":0.218,"w":0.03},{"f":0.222,"w":0.01},{"f":0.228,"w":0.02},{"f":0.236,"w":0.03},{"f":0.242,"w":0.01},{"f":0.25,"w":0.02},{"f":0.258,"w":0.01},{"f":0.266,"w":0.02},{"f":0.275,"w":0.01},{"f":0.285,"w":0.015},{"f":0.295,"w":0.01},{"f":0.305,"w":0.02},{"f":0.315,"w":0.01},{"f":0.325,"w":0.02},{"f":0.335,"w":0.01},{"f":0.345,"w":0.015},{"f":0.36,"w":0.01}],
"p11":[{"f":0,"w":0.01},{"f":0.004,"w":0.03},{"f":0.008,"w":0.1},{"f":0.0115,"w":0.157},{"f":0.015,"w":0.08},{"f":0.018,"w":0.01},{"f":0.022,"w":0.01},{"f":0.026,"w":0.02},{"f":0.029,"w":0.3},{"f":0.032,"w":0.8},{"f":0.035,"w":1.25},{"f":0.0378,"w":1.42},{"f":0.04,"w":1.3},{"f":0.042,"w":0.9},{"f":0.044,"w":0.4},{"f":0.046,"w":0.08},{"f":0.047,"w":0.02},{"f":0.05,"w":0.03},{"f":0.053,"w":0.04},{"f":0.056,"w":0.02},{"f":0.06,"w":0.01},{"f":0.064,"w":0.02},{"f":0.07,"w":0.04},{"f":0.075,"w":0.02},{"f":0.08,"w":0.01},{"f":0.09,"w":0.02},{"f":0.1,"w":0.01},{"f":0.11,"w":0.015},{"f":0.12,"w":0.01},{"f":0.14,"w":0.012},{"f":0.16,"w":0.01},{"f":0.2,"w":0.01},{"f":0.25,"w":0.01},{"f":0.3,"w":0.01},{"f":0.36,"w":0.01}],
"p12":[{"f":0,"w":0.01},{"f":0.006,"w":0.01},{"f":0.011,"w":0.03},{"f":0.0155,"w":0.047},{"f":0.019,"w":0.02},{"f":0.022,"w":0.005},{"f":0.025,"w":0.15},{"f":0.028,"w":0.6},{"f":0.03,"w":0.9},{"f":0.0327,"w":1.05},{"f":0.035,"w":0.9},{"f":0.037,"w":0.6},{"f":0.04,"w":0.15},{"f":0.0425,"w":0.005},{"f":0.045,"w":0.03},{"f":0.048,"w":0.047},{"f":0.051,"w":0.02},{"f":0.053,"w":0.005},{"f":0.056,"w":0.05},{"f":0.06,"w":0.16},{"f":0.0638,"w":0.215},{"f":0.067,"w":0.16},{"f":0.071,"w":0.05},{"f":0.075,"w":0.005},{"f":0.08,"w":0.01},{"f":0.086,"w":0.03},{"f":0.09,"w":0.06},{"f":0.094,"w":0.078},{"f":0.098,"w":0.05},{"f":0.101,"w":0.02},{"f":0.104,"w":0.005},{"f":0.11,"w":0.005},{"f":0.116,"w":0.01},{"f":0.122,"w":0.02},{"f":0.128,"w":0.023},{"f":0.133,"w":0.01},{"f":0.138,"w":0.005},{"f":0.15,"w":0.005},{"f":0.2,"w":0.005},{"f":0.25,"w":0.005},{"f":0.3,"w":0.005},{"f":0.36,"w":0.005}]
},
"concat":[
{"width":145,"height":102,"title":{"text":"Group 1 -- ASAS sample"},"layer":[
{"data":{"name":"p1"},"mark":{"type":"line","clip":true},"encoding":{"x":{"field":"f","type":"quantitative","scale":{"domain":[0,1.2],"nice":false},"axis":{"orient":"bottom","values":[0,0.2,0.4,0.6,0.8,1,1.2],"labels":false,"title":null}},"y":{"field":"w","type":"quantitative","scale":{"domain":[0,7e-5],"nice":false},"axis":{"orient":"left","values":[0,2e-5,4e-5,6e-5],"title":null,"labelExpr":"datum.value == 0 ? '0.0 x 10⁰' : format(datum.value / pow(10, floor(log(datum.value) / LN10 + 1e-9)), '.1f') + ' x 10' + (floor(log(datum.value) / LN10 + 1e-9) == 0 ? '⁰' : '⁻' + substring('⁰¹²³⁴⁵⁶⁷⁸⁹', -floor(log(datum.value) / LN10 + 1e-9), 1 - floor(log(datum.value) / LN10 + 1e-9)))"}}}},
{"data":{"values":[{"t":"KIC 7115384"}]},"mark":"text","encoding":{"text":{"field":"t"},"x":{"datum":1.117,"type":"quantitative","axis":{"orient":"top","values":[0,0.2,0.4,0.6,0.8,1,1.2],"labels":false,"title":null}},"y":{"datum":4.97e-5,"type":"quantitative","axis":{"orient":"right","values":[0,2e-5,4e-5,6e-5],"labels":false,"title":null}}}}
],"resolve":{"axis":{"x":"independent","y":"independent"}}},
{"width":145,"height":102,"title":{"text":"Group 2 -- non-ASAS sample"},"layer":[
{"data":{"name":"p5"},"mark":{"type":"line","clip":true},"encoding":{"x":{"field":"f","type":"quantitative","scale":{"domain":[0,12],"nice":false},"axis":{"orient":"bottom","values":[0,2,4,6,8,10,12],"labels":false,"title":null}},"y":{"field":"w","type":"quantitative","scale":{"domain":[0,8e-6],"nice":false},"axis":{"orient":"left","values":[0,2e-6,4e-6,6e-6,8e-6],"title":null,"labelExpr":"datum.value == 0 ? '0.0 x 10⁰' : format(datum.value / pow(10, floor(log(datum.value) / LN10 + 1e-9)), '.1f') + ' x 10' + (floor(log(datum.value) / LN10 + 1e-9) == 0 ? '⁰' : '⁻' + substring('⁰¹²³⁴⁵⁶⁷⁸⁹', -floor(log(datum.value) / LN10 + 1e-9), 1 - floor(log(datum.value) / LN10 + 1e-9)))"}}}},
{"data":{"values":[{"t":"KIC 5357380"}]},"mark":"text","encoding":{"text":{"field":"t"},"x":{"datum":10.68,"type":"quantitative","axis":{"orient":"top","values":[0,2,4,6,8,10,12],"labels":false,"title":null}},"y":{"datum":6e-6,"type":"quantitative","axis":{"orient":"right","values":[0,2e-6,4e-6,6e-6,8e-6],"labels":false,"title":null}}}}
],"resolve":{"axis":{"x":"independent","y":"independent"}}},
{"width":145,"height":102,"title":{"text":"Group 3 -- Mira/SR"},"layer":[
{"data":{"name":"p9"},"mark":{"type":"line","clip":true},"encoding":{"x":{"field":"f","type":"quantitative","scale":{"domain":[0,0.36],"nice":false},"axis":{"orient":"bottom","values":[0,0.072,0.144,0.216,0.288,0.36],"labels":false,"title":null}},"y":{"field":"w","type":"quantitative","scale":{"domain":[0,0.06],"nice":false},"axis":{"orient":"left","values":[0,0.015,0.03,0.045,0.06],"title":null,"labelExpr":"datum.value == 0 ? '0.0 x 10⁰' : format(datum.value / pow(10, floor(log(datum.value) / LN10 + 1e-9)), '.1f') + ' x 10' + (floor(log(datum.value) / LN10 + 1e-9) == 0 ? '⁰' : '⁻' + substring('⁰¹²³⁴⁵⁶⁷⁸⁹', -floor(log(datum.value) / LN10 + 1e-9), 1 - floor(log(datum.value) / LN10 + 1e-9)))"}}}},
{"data":{"values":[{"t":"KIC 9570858"}]},"mark":"text","encoding":{"text":{"field":"t"},"x":{"datum":0.321,"type":"quantitative","axis":{"orient":"top","values":[0,0.072,0.144,0.216,0.288,0.36],"labels":false,"title":null}},"y":{"datum":0.045,"type":"quantitative","axis":{"orient":"right","values":[0,0.015,0.03,0.045,0.06],"labels":false,"title":null}}}}
],"resolve":{"axis":{"x":"independent","y":"independent"}}},
{"width":145,"height":102,"layer":[
{"data":{"name":"p2"},"mark":{"type":"line","clip":true},"encoding":{"x":{"field":"f","type":"quantitative","scale":{"domain":[0,1.2],"nice":false},"axis":{"orient":"bottom","values":[0,0.2,0.4,0.6,0.8,1,1.2],"labels":false,"title":null}},"y":{"field":"w","type":"quantitative","scale":{"domain":[0,5.5e-4],"nice":false},"axis":{"orient":"left","values":[0,1.5e-4,3e-4,4.5e-4],"title":null,"labelExpr":"datum.value == 0 ? '0.0 x 10⁰' : format(datum.value / pow(10, floor(log(datum.value) / LN10 + 1e-9)), '.1f') + ' x 10' + (floor(log(datum.value) / LN10 + 1e-9) == 0 ? '⁰' : '⁻' + substring('⁰¹²³⁴⁵⁶⁷⁸⁹', -floor(log(datum.value) / LN10 + 1e-9), 1 - floor(log(datum.value) / LN10 + 1e-9)))"}}}},
{"data":{"values":[{"t":"KIC 10747884"}]},"mark":"text","encoding":{"text":{"field":"t"},"x":{"datum":1.117,"type":"quantitative","axis":{"orient":"top","values":[0,0.2,0.4,0.6,0.8,1,1.2],"labels":false,"title":null}},"y":{"datum":3.99e-4,"type":"quantitative","axis":{"orient":"right","values":[0,1.5e-4,3e-4,4.5e-4],"labels":false,"title":null}}}}
],"resolve":{"axis":{"x":"independent","y":"independent"}}},
{"width":145,"height":102,"layer":[
{"data":{"name":"p6"},"mark":{"type":"line","clip":true},"encoding":{"x":{"field":"f","type":"quantitative","scale":{"domain":[0,12],"nice":false},"axis":{"orient":"bottom","values":[0,2,4,6,8,10,12],"labels":false,"title":null}},"y":{"field":"w","type":"quantitative","scale":{"domain":[0,4e-6],"nice":false},"axis":{"orient":"left","values":[0,1e-6,2e-6,3e-6],"title":null,"labelExpr":"datum.value == 0 ? '0.0 x 10⁰' : format(datum.value / pow(10, floor(log(datum.value) / LN10 + 1e-9)), '.1f') + ' x 10' + (floor(log(datum.value) / LN10 + 1e-9) == 0 ? '⁰' : '⁻' + substring('⁰¹²³⁴⁵⁶⁷⁸⁹', -floor(log(datum.value) / LN10 + 1e-9), 1 - floor(log(datum.value) / LN10 + 1e-9)))"}}}},
{"data":{"values":[{"t":"KIC 9821863"}]},"mark":"text","encoding":{"text":{"field":"t"},"x":{"datum":10.68,"type":"quantitative","axis":{"orient":"top","values":[0,2,4,6,8,10,12],"labels":false,"title":null}},"y":{"datum":3e-6,"type":"quantitative","axis":{"orient":"right","values":[0,1e-6,2e-6,3e-6],"labels":false,"title":null}}}}
],"resolve":{"axis":{"x":"independent","y":"independent"}}},
{"width":145,"height":102,"layer":[
{"data":{"name":"p10"},"mark":{"type":"line","clip":true},"encoding":{"x":{"field":"f","type":"quantitative","scale":{"domain":[0,0.36],"nice":false},"axis":{"orient":"bottom","values":[0,0.072,0.144,0.216,0.288,0.36],"labels":false,"title":null}},"y":{"field":"w","type":"quantitative","scale":{"domain":[0,1.2],"nice":false},"axis":{"orient":"left","values":[0,0.3,0.6,0.9],"title":null,"labelExpr":"datum.value == 0 ? '0.0 x 10⁰' : format(datum.value / pow(10, floor(log(datum.value) / LN10 + 1e-9)), '.1f') + ' x 10' + (floor(log(datum.value) / LN10 + 1e-9) == 0 ? '⁰' : '⁻' + substring('⁰¹²³⁴⁵⁶⁷⁸⁹', -floor(log(datum.value) / LN10 + 1e-9), 1 - floor(log(datum.value) / LN10 + 1e-9)))"}}}},
{"data":{"values":[{"t":"KIC 3247777"}]},"mark":"text","encoding":{"text":{"field":"t"},"x":{"datum":0.321,"type":"quantitative","axis":{"orient":"top","values":[0,0.072,0.144,0.216,0.288,0.36],"labels":false,"title":null}},"y":{"datum":0.9,"type":"quantitative","axis":{"orient":"right","values":[0,0.3,0.6,0.9],"labels":false,"title":null}}}}
],"resolve":{"axis":{"x":"independent","y":"independent"}}},
{"width":145,"height":102,"layer":[
{"data":{"name":"p3"},"mark":{"type":"line","clip":true},"encoding":{"x":{"field":"f","type":"quantitative","scale":{"domain":[0,1.2],"nice":false},"axis":{"orient":"bottom","values":[0,0.2,0.4,0.6,0.8,1,1.2],"labels":false,"title":null}},"y":{"field":"w","type":"quantitative","scale":{"domain":[0,4e-3],"nice":false},"axis":{"orient":"left","values":[0,1e-3,2e-3,3e-3],"title":"Power","titleX":-71,"titleY":51,"labelExpr":"datum.value == 0 ? '0.0 x 10⁰' : format(datum.value / pow(10, floor(log(datum.value) / LN10 + 1e-9)), '.1f') + ' x 10' + (floor(log(datum.value) / LN10 + 1e-9) == 0 ? '⁰' : '⁻' + substring('⁰¹²³⁴⁵⁶⁷⁸⁹', -floor(log(datum.value) / LN10 + 1e-9), 1 - floor(log(datum.value) / LN10 + 1e-9)))"}}}},
{"data":{"values":[{"t":"KIC 4679457"}]},"mark":"text","encoding":{"text":{"field":"t"},"x":{"datum":1.117,"type":"quantitative","axis":{"orient":"top","values":[0,0.2,0.4,0.6,0.8,1,1.2],"labels":false,"title":null}},"y":{"datum":3e-3,"type":"quantitative","axis":{"orient":"right","values":[0,1e-3,2e-3,3e-3],"labels":false,"title":null}}}}
],"resolve":{"axis":{"x":"independent","y":"independent"}}},
{"width":145,"height":102,"layer":[
{"data":{"name":"p7"},"mark":{"type":"line","clip":true},"encoding":{"x":{"field":"f","type":"quantitative","scale":{"domain":[0,12],"nice":false},"axis":{"orient":"bottom","values":[0,2,4,6,8,10,12],"labels":false,"title":null}},"y":{"field":"w","type":"quantitative","scale":{"domain":[0,8e-7],"nice":false},"axis":{"orient":"left","values":[0,2e-7,4e-7,6e-7],"title":null,"labelExpr":"datum.value == 0 ? '0.0 x 10⁰' : format(datum.value / pow(10, floor(log(datum.value) / LN10 + 1e-9)), '.1f') + ' x 10' + (floor(log(datum.value) / LN10 + 1e-9) == 0 ? '⁰' : '⁻' + substring('⁰¹²³⁴⁵⁶⁷⁸⁹', -floor(log(datum.value) / LN10 + 1e-9), 1 - floor(log(datum.value) / LN10 + 1e-9)))"}}}},
{"data":{"values":[{"t":"KIC 3833455"}]},"mark":"text","encoding":{"text":{"field":"t"},"x":{"datum":10.68,"type":"quantitative","axis":{"orient":"top","values":[0,2,4,6,8,10,12],"labels":false,"title":null}},"y":{"datum":6e-7,"type":"quantitative","axis":{"orient":"right","values":[0,2e-7,4e-7,6e-7],"labels":false,"title":null}}}}
],"resolve":{"axis":{"x":"independent","y":"independent"}}},
{"width":145,"height":102,"layer":[
{"data":{"name":"p11"},"mark":{"type":"line","clip":true},"encoding":{"x":{"field":"f","type":"quantitative","scale":{"domain":[0,0.36],"nice":false},"axis":{"orient":"bottom","values":[0,0.072,0.144,0.216,0.288,0.36],"labels":false,"title":null}},"y":{"field":"w","type":"quantitative","scale":{"domain":[0,1.6],"nice":false},"axis":{"orient":"left","values":[0,0.4,0.8,1.2],"title":null,"labelExpr":"datum.value == 0 ? '0.0 x 10⁰' : format(datum.value / pow(10, floor(log(datum.value) / LN10 + 1e-9)), '.1f') + ' x 10' + (floor(log(datum.value) / LN10 + 1e-9) == 0 ? '⁰' : '⁻' + substring('⁰¹²³⁴⁵⁶⁷⁸⁹', -floor(log(datum.value) / LN10 + 1e-9), 1 - floor(log(datum.value) / LN10 + 1e-9)))"}}}},
{"data":{"values":[{"t":"KIC 8429085"}]},"mark":"text","encoding":{"text":{"field":"t"},"x":{"datum":0.321,"type":"quantitative","axis":{"orient":"top","values":[0,0.072,0.144,0.216,0.288,0.36],"labels":false,"title":null}},"y":{"datum":1.2,"type":"quantitative","axis":{"orient":"right","values":[0,0.4,0.8,1.2],"labels":false,"title":null}}}}
],"resolve":{"axis":{"x":"independent","y":"independent"}}},
{"width":145,"height":102,"layer":[
{"data":{"name":"p4"},"mark":{"type":"line","clip":true},"encoding":{"x":{"field":"f","type":"quantitative","scale":{"domain":[0,1.2],"nice":false},"axis":{"orient":"bottom","values":[0,0.2,0.4,0.6,0.8,1,1.2],"format":"~g","title":"Frequency (μHz)"}},"y":{"field":"w","type":"quantitative","scale":{"domain":[0,4.1e-4],"nice":false},"axis":{"orient":"left","values":[0,1e-4,2e-4,3e-4],"title":null,"labelExpr":"datum.value == 0 ? '0.0 x 10⁰' : format(datum.value / pow(10, floor(log(datum.value) / LN10 + 1e-9)), '.1f') + ' x 10' + (floor(log(datum.value) / LN10 + 1e-9) == 0 ? '⁰' : '⁻' + substring('⁰¹²³⁴⁵⁶⁷⁸⁹', -floor(log(datum.value) / LN10 + 1e-9), 1 - floor(log(datum.value) / LN10 + 1e-9)))"}}}},
{"data":{"values":[{"t":"KIC 8905990"}]},"mark":"text","encoding":{"text":{"field":"t"},"x":{"datum":1.117,"type":"quantitative","axis":{"orient":"top","values":[0,0.2,0.4,0.6,0.8,1,1.2],"labels":false,"title":null}},"y":{"datum":3e-4,"type":"quantitative","axis":{"orient":"right","values":[0,1e-4,2e-4,3e-4],"labels":false,"title":null}}}}
],"resolve":{"axis":{"x":"independent","y":"independent"}}},
{"width":145,"height":102,"layer":[
{"data":{"name":"p8"},"mark":{"type":"line","clip":true},"encoding":{"x":{"field":"f","type":"quantitative","scale":{"domain":[0,12],"nice":false},"axis":{"orient":"bottom","values":[0,2,4,6,8,10,12],"format":"~g","title":"Frequency (μHz)"}},"y":{"field":"w","type":"quantitative","scale":{"domain":[0,4e-7],"nice":false},"axis":{"orient":"left","values":[0,1e-7,2e-7,3e-7],"title":null,"labelExpr":"datum.value == 0 ? '0.0 x 10⁰' : format(datum.value / pow(10, floor(log(datum.value) / LN10 + 1e-9)), '.1f') + ' x 10' + (floor(log(datum.value) / LN10 + 1e-9) == 0 ? '⁰' : '⁻' + substring('⁰¹²³⁴⁵⁶⁷⁸⁹', -floor(log(datum.value) / LN10 + 1e-9), 1 - floor(log(datum.value) / LN10 + 1e-9)))"}}}},
{"data":{"values":[{"t":"KIC 10992390"}]},"mark":"text","encoding":{"text":{"field":"t"},"x":{"datum":10.68,"type":"quantitative","axis":{"orient":"top","values":[0,2,4,6,8,10,12],"labels":false,"title":null}},"y":{"datum":3e-7,"type":"quantitative","axis":{"orient":"right","values":[0,1e-7,2e-7,3e-7],"labels":false,"title":null}}}}
],"resolve":{"axis":{"x":"independent","y":"independent"}}},
{"width":145,"height":102,"layer":[
{"data":{"name":"p12"},"mark":{"type":"line","clip":true},"encoding":{"x":{"field":"f","type":"quantitative","scale":{"domain":[0,0.36],"nice":false},"axis":{"orient":"bottom","values":[0,0.072,0.144,0.216,0.288,0.36],"format":".2f","title":"Frequency (μHz)"}},"y":{"field":"w","type":"quantitative","scale":{"domain":[0,1.2],"nice":false},"axis":{"orient":"left","values":[0,0.3,0.6,0.9],"title":null,"labelExpr":"datum.value == 0 ? '0.0 x 10⁰' : format(datum.value / pow(10, floor(log(datum.value) / LN10 + 1e-9)), '.1f') + ' x 10' + (floor(log(datum.value) / LN10 + 1e-9) == 0 ? '⁰' : '⁻' + substring('⁰¹²³⁴⁵⁶⁷⁸⁹', -floor(log(datum.value) / LN10 + 1e-9), 1 - floor(log(datum.value) / LN10 + 1e-9)))"}}}},
{"data":{"values":[{"t":"KIC 7368621"}]},"mark":"text","encoding":{"text":{"field":"t"},"x":{"datum":0.321,"type":"quantitative","axis":{"orient":"top","values":[0,0.072,0.144,0.216,0.288,0.36],"labels":false,"title":null}},"y":{"datum":0.9,"type":"quantitative","axis":{"orient":"right","values":[0,0.3,0.6,0.9],"labels":false,"title":null}}}}
],"resolve":{"axis":{"x":"independent","y":"independent"}}}
]
}
